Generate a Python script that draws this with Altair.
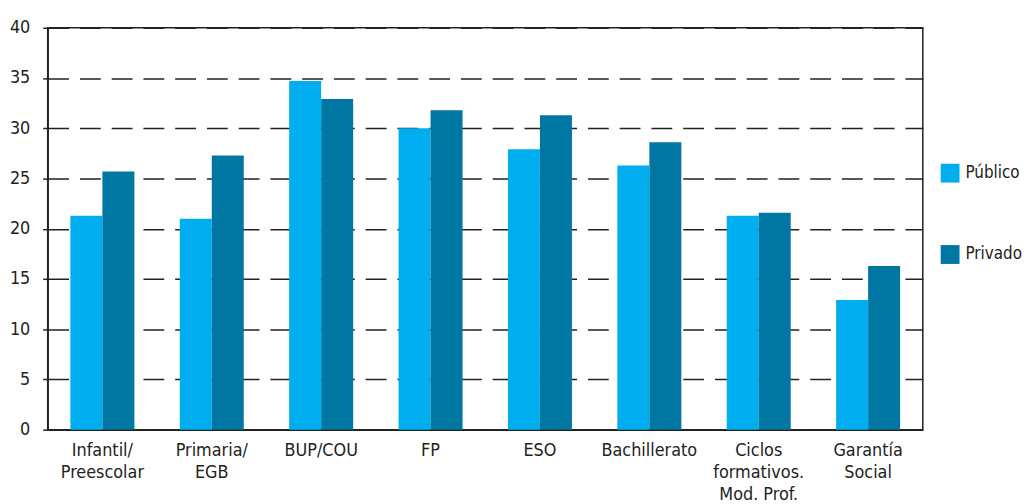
import altair as alt
import pandas as pd

categories = ["Infantil/|Preescolar", "Primaria/|EGB", "BUP/COU", "FP", "ESO",
              "Bachillerato", "Ciclos|formativos.|Mod. Prof.", "Garantía|Social"]
publico = [21.3, 21.0, 34.7, 30.0, 27.9, 26.3, 21.3, 12.9]
privado = [25.7, 27.3, 32.9, 31.8, 31.3, 28.6, 21.6, 16.3]
series = ["Público", "Privado"]
colors = ["#00AEEF", "#0077A3"]
y_ticks = [0, 5, 10, 15, 20, 25, 30, 35, 40]

rows = []
for c, a, b in zip(categories, publico, privado):
    rows.append({"cat": c, "serie": series[0], "valor": a})
    rows.append({"cat": c, "serie": series[1], "valor": b})
df = pd.DataFrame(rows)

FONT = "Liberation Sans Narrow, DejaVu Sans Condensed, Roboto, sans-serif"

chart = alt.Chart(df).mark_bar().encode(
    x=alt.X("cat:N", sort=categories,
            scale=alt.Scale(paddingInner=0.415, paddingOuter=0.2075),
            axis=alt.Axis(title=None, labelAngle=0, ticks=False,
                          labelExpr="split(datum.label, '|')",
                          labelFontSize=18, labelLineHeight=22, labelPadding=12,
                          labelColor="#222", domainColor="#222", domainWidth=1.5,
                          labelFont=FONT, labelBaseline="top")),
    xOffset=alt.XOffset("serie:N", sort=series),
    y=alt.Y("valor:Q", scale=alt.Scale(domain=[0, 40], nice=False),
            axis=alt.Axis(title=None, values=y_ticks, tickSize=5, tickColor="#222",
                          tickWidth=1.5, labelPadding=13, labelFontSize=18,
                          labelColor="#222", labelFont=FONT,
                          domainColor="#222", domainWidth=1.5,
                          grid=True, gridColor="#222", gridWidth=1.5,
                          gridDash=[21, 11])),
    color=alt.Color("serie:N", sort=series,
                    scale=alt.Scale(domain=series, range=colors),
                    legend=alt.Legend(title=None, orient="none", legendX=900, legendY=137,
                                      symbolType="square", symbolSize=361,
                                      symbolStrokeWidth=0, rowPadding=63,
                                      labelFontSize=17, labelFont=FONT,
                                      labelColor="#222", labelOffset=6)),
).properties(
    width=882, height=405,
    autosize=alt.AutoSizeParams(type="none"),
    padding={"left": 40, "top": 18, "right": 104, "bottom": 73},
).configure_view(
    stroke="#222", strokeWidth=1.5
)

chart.save("out.html", embed_options={"renderer": "svg", "actions": False})
